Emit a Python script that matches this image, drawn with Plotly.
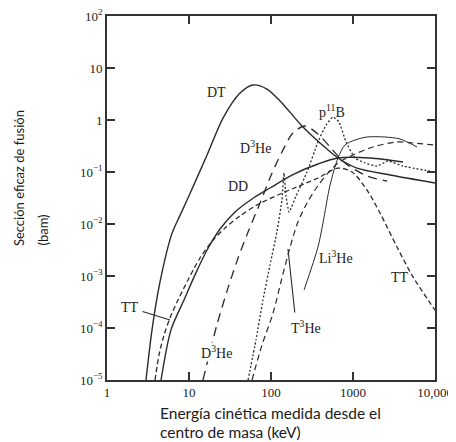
import numpy as np
import plotly.graph_objects as go

# ---- data (energy keV, cross-section barn) ----
dt_E = [2.99, 3.54, 4.43, 6.20, 7.75, 9.72, 16.6, 26.0, 41.9, 60.3, 89.3, 129, 239, 396, 656, 1119, 2826, 10000]
dt_s = [1e-5, 9.2e-5, 7.7e-4, 6.6e-3, 0.0145, 0.0316, 0.212, 1.09, 3.30, 4.71, 3.94, 2.32, 0.767, 0.361, 0.186, 0.119, 0.0875, 0.0614]

dd_E = [4.56, 6.03, 8.69, 11.8, 16.6, 23.9, 36.4, 58.7, 97.2, 180, 374, 656, 1611, 4074]
dd_s = [1e-5, 9.2e-5, 3.45e-4, 1.04e-3, 3.16e-3, 8.0e-3, 0.0170, 0.0303, 0.0492, 0.0875, 0.1425, 0.186, 0.186, 0.1556]

tt_E = [3.85, 4.31, 4.96, 5.86, 7.34, 9.72, 13.6, 19.6, 27.5, 41.9, 67.5, 129, 207, 374, 656, 972, 1482, 2134, 3443, 5395, 10000]
tt_s = [1e-5, 3.03e-5, 7.3e-5, 1.56e-4, 3.45e-4, 8.4e-4, 2.22e-3, 4.9e-3, 8.4e-3, 0.01426, 0.0232, 0.0378, 0.0515, 0.0767, 0.119, 0.1, 0.045, 0.0163, 3.6e-3, 9.6e-4, 2.2e-4]

dhe_E = [14.8, 21.9, 29.9, 39.6, 52.5, 73.4, 103, 136, 185, 260, 374, 525, 798, 1482, 2600]
dhe_s = [1e-5, 1.15e-4, 5.9e-4, 2.2e-3, 7.0e-3, 0.0253, 0.0957, 0.243, 0.562, 0.767, 0.538, 0.303, 0.149, 0.0838, 0.0671]

pb_E = [52.5, 65.6, 79.8, 97.2, 118, 136, 144, 152, 166, 202, 275, 374, 469, 570, 675, 822, 1057, 1400, 1963, 2673, 4074, 10000]
pb_s = [1e-5, 5.9e-5, 3.45e-4, 1.63e-3, 7.0e-3, 0.029, 0.0955, 0.036, 0.017, 0.0345, 0.1, 0.378, 0.80, 1.14, 0.916, 0.378, 0.186, 0.149, 0.130, 0.163, 0.130, 0.1]

the_E = [58.7, 77.6, 106, 136, 171, 213, 275, 364, 495, 656, 1000, 1754, 3443, 5395, 10000]
the_s = [1e-5, 4.7e-5, 1.94e-4, 9.2e-4, 3.6e-3, 0.0109, 0.0253, 0.0515, 0.0955, 0.149, 0.212, 0.303, 0.378, 0.361, 0.33]

lihe_E = [253, 374, 430, 525, 656, 798, 1057, 1482, 2455, 3742, 6030]
lihe_s = [5.4e-4, 3.6e-3, 0.0104, 0.056, 0.186, 0.330, 0.412, 0.471, 0.471, 0.431, 0.303]

x_ticks = [1, 10, 100, 1000, 10000]
x_ticktext = ["1", "10", "100", "1000", "10,000"]
y_ticks = [1e-5, 1e-4, 1e-3, 1e-2, 1e-1, 1, 10, 100]
y_ticktext = ["10<sup>−5</sup>", "10<sup>−4</sup>", "10<sup>−3</sup>", "10<sup>−2</sup>",
              "10<sup>−1</sup>", "1", "10", "10<sup>2</sup>"]

# curve labels: (text, energy keV, sigma barn, white background)
labels = [
    ("DT", 21.9, 3.45, False),
    ("D<sup>3</sup>He", 65.6, 0.303, False),
    ("DD", 39.6, 0.0515, False),
    ("p<sup>11</sup>B", 555, 1.49, False),
    ("TT", 1.905, 2.43e-4, False),
    ("D<sup>3</sup>He", 21.5, 3.45e-5, True),
    ("Li<sup>3</sup>He", 621, 2.32e-3, False),
    ("T<sup>3</sup>He", 267, 1.04e-4, False),
    ("TT", 3742, 9.2e-4, False),
]
# pointer lines: (tail E, tail sigma, tip E, tip sigma)
pointers = [
    (2.60, 2.12e-4, 5.86, 1.43e-4),
    (196, 1.86e-4, 161, 3.3e-3),
]

LC = "#2a2a2a"
fig = go.Figure()

def add(E, s, dash, width=1.3, smooth=0.8, shape="spline"):
    fig.add_trace(go.Scatter(x=E, y=s, mode="lines",
                             line=dict(color=LC, width=width, dash=dash, shape=shape,
                                       smoothing=smooth if shape == "spline" else None),
                             showlegend=False, hoverinfo="skip"))

add(dt_E, dt_s, "solid", 1.4)
add(dd_E, dd_s, "solid", 1.4)
add(tt_E, tt_s, "5px,3px", 1.3)
add(dhe_E, dhe_s, "9px,6px", 1.3)
add(pb_E, pb_s, "2px,2px", 1.3, 0.4)
add(the_E, the_s, "6px,4px", 1.2)
add(lihe_E, lihe_s, "solid", 1.0)

serif = "Liberation Serif, Times New Roman, serif"
for t, e, s, bg in labels:
    fig.add_annotation(x=np.log10(e), y=np.log10(s), xref="x", yref="y", text=t,
                       showarrow=False, bgcolor="white" if bg else None, borderpad=0,
                       font=dict(family=serif, size=14, color="#222"))
for te, ts, he, hs in pointers:
    fig.add_annotation(x=np.log10(he), y=np.log10(hs), ax=np.log10(te), ay=np.log10(ts),
                       xref="x", yref="y", axref="x", ayref="y", text="",
                       showarrow=True, arrowhead=0, arrowwidth=1.1, arrowcolor=LC)

sans = "Lato, Open Sans, sans-serif"
fig.add_annotation(x=-0.268, y=0.3626, xref="paper", yref="paper", text="Sección eficaz de fusión",
                   textangle=-90, showarrow=False, xanchor="center", yanchor="bottom",
                   font=dict(family=sans, size=13, color="#1a1a1a"))
fig.add_annotation(x=-0.198, y=0.3626, xref="paper", yref="paper", text="(bam)",
                   textangle=-90, showarrow=False, xanchor="center", yanchor="bottom",
                   font=dict(family=sans, size=13, color="#1a1a1a"))
fig.add_annotation(x=0.1555, y=-0.0907, xref="paper", yref="paper", text="Energía cinética medida desde el",
                   showarrow=False, xanchor="left", yanchor="middle",
                   font=dict(family=sans, size=15.5, color="#1a1a1a"))
fig.add_annotation(x=0.1555, y=-0.1429, xref="paper", yref="paper", text="centro de masa (keV)",
                   showarrow=False, xanchor="left", yanchor="middle",
                   font=dict(family=sans, size=15.5, color="#1a1a1a"))

axis_common = dict(showgrid=False, zeroline=False, showline=True, linecolor="#333", linewidth=1.6,
                   ticks="inside", ticklen=8, tickwidth=1.5, tickcolor="#333", mirror="ticks",
                   automargin=False, ticklabeloverflow="allow",
                   tickfont=dict(family=serif, size=13, color="#222"))
fig.update_xaxes(type="log", range=[0, 4], tickvals=x_ticks, ticktext=x_ticktext, **axis_common)
fig.update_yaxes(type="log", range=[-5, 2], tickvals=y_ticks, ticktext=y_ticktext, **axis_common)

# page body has an 8px margin: figure is sized/offset so the plot lands where the reference has it
fig.update_layout(width=448, height=434, margin=dict(l=99, r=21, t=8, b=62),
                  paper_bgcolor="white", plot_bgcolor="white")
fig.write_html("out.html")
